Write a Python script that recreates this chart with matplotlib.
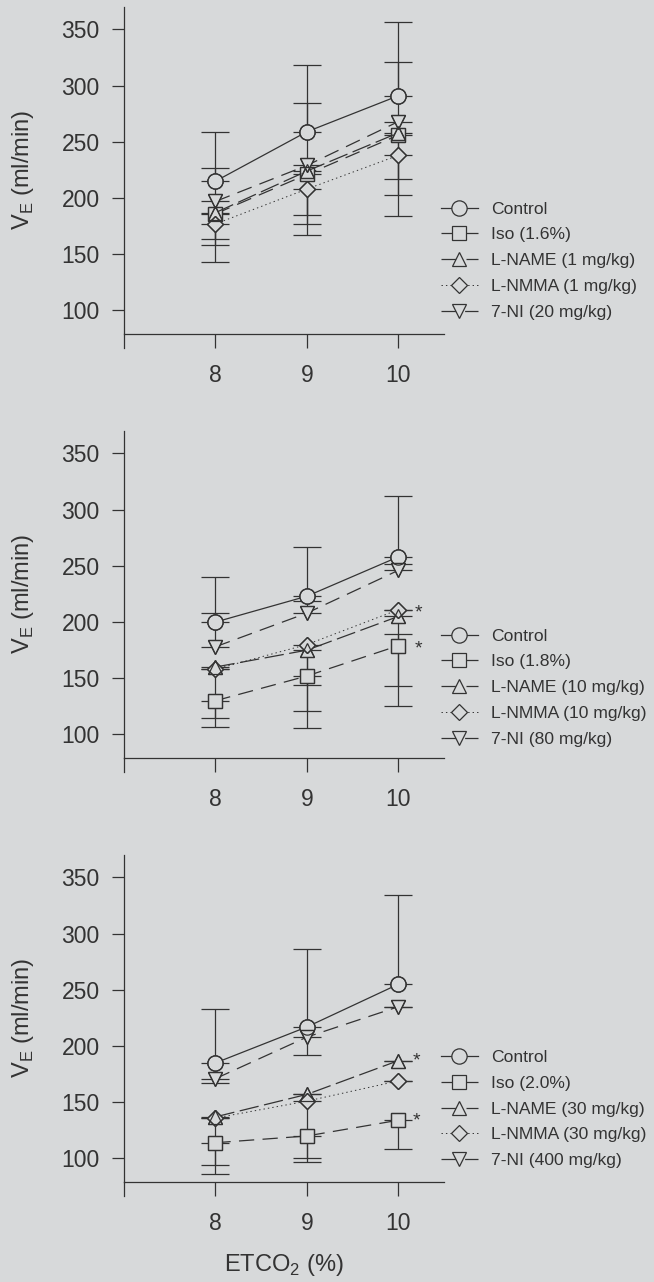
import matplotlib.pyplot as plt
import numpy as np

plt.rcParams['font.family'] = ['Liberation Sans', 'DejaVu Sans']
plt.rcParams['mathtext.fontset'] = 'custom'
plt.rcParams['mathtext.rm'] = 'Liberation Sans'
plt.rcParams['lines.scale_dashes'] = False

bg = '#d7d9da'
fg = '#333333'

etco2 = [8, 9, 10]

# series order: Control, Iso, L-NAME, L-NMMA, 7-NI
labels_1 = ['Control', 'Iso (1.6%)', 'L-NAME (1 mg/kg)', 'L-NMMA (1 mg/kg)', '7-NI (20 mg/kg)']
labels_2 = ['Control', 'Iso (1.8%)', 'L-NAME (10 mg/kg)', 'L-NMMA (10 mg/kg)', '7-NI (80 mg/kg)']
labels_3 = ['Control', 'Iso (2.0%)', 'L-NAME (30 mg/kg)', 'L-NMMA (30 mg/kg)', '7-NI (400 mg/kg)']

mean_1 = [[215, 259, 291], [186, 221, 256], [187, 224, 258], [177, 208, 238], [197, 229, 268]]
up_1 = [[44, 59, 66], [0, 0, 0], [0, 0, 0], [0, 0, 0], [30, 56, 53]]
dn_1 = [[0, 0, 0], [28, 36, 53], [44, 57, 74], [13, 31, 21], [0, 0, 0]]

mean_2 = [[200, 223, 258], [130, 152, 179], [160, 175, 205], [158, 180, 211], [178, 208, 246]]
up_2 = [[40, 44, 54], [0, 0, 10], [0, 0, 0], [0, 0, 0], [30, 11, 6]]
dn_2 = [[0, 0, 0], [15, 31, 36], [53, 69, 80], [0, 36, 0], [0, 0, 0]]

mean_3 = [[185, 217, 255], [114, 120, 134], [137, 157, 187], [136, 151, 169], [171, 208, 235]]
up_3 = [[48, 69, 79], [0, 0, 0], [0, 0, 0], [0, 0, 0], [0, 0, 0]]
dn_3 = [[0, 0, 0], [20, 20, 26], [51, 0, 0], [0, 54, 0], [4, 16, 0]]

# significance stars (x, y) per panel
stars_2 = [(10.22, 208), (10.22, 176)]
stars_3 = [(10.2, 187), (10.2, 133)]

markers = ['o', 's', '^', 'D', 'v']
msizes = [11, 9.5, 10.5, 8.5, 10.5]
styles = ['-', (0, (11, 6)), (0, (14, 4)), (0, (1, 2.2)), (0, (11, 6))]
widths = [0.9, 0.9, 0.9, 0.7, 0.9]

fig = plt.figure(figsize=(6.54, 12.82), dpi=100, facecolor=bg)
H = 1282.0
W = 654.0
tops = [7, 431, 855]
leg_y = [260.5, 687.5, 1109]

panels = [(labels_1, mean_1, up_1, dn_1, []),
          (labels_2, mean_2, up_2, dn_2, stars_2),
          (labels_3, mean_3, up_3, dn_3, stars_3)]

for k, (labels, means, ups, dns, stars) in enumerate(panels):
    ax = fig.add_axes([124 / W, 1 - (tops[k] + 326.5) / H, 320 / W, 326.5 / H])
    ax.set_facecolor(bg)
    for i in range(5):
        ax.errorbar(etco2, means[i], yerr=[dns[i], ups[i]], fmt='none',
                    ecolor=fg, elinewidth=0.9, capsize=10, capthick=0.9, zorder=1)
    for i in range(5):
        ax.plot(etco2, means[i], linestyle=styles[i], lw=widths[i], color=fg,
                marker=markers[i], ms=msizes[i], mfc=bg, mec=fg, mew=0.9,
                label=labels[i], zorder=3)
    for i in range(5):
        ax.plot(etco2, means[i], linestyle='none', marker=markers[i], ms=msizes[i],
                mfc='none', mec=fg, mew=0.9, zorder=4)
    for sx, sy in stars:
        ax.text(sx, sy, '*', fontsize=14, color=fg, ha='center', va='center')

    ax.set_xlim(7.0, 10.5)
    ax.set_ylim(79.5, 370)
    ax.set_xticks(etco2)
    ax.set_yticks([100, 150, 200, 250, 300, 350])
    for s in ['top', 'right']:
        ax.spines[s].set_visible(False)
    for s in ['left', 'bottom']:
        ax.spines[s].set_color(fg)
        ax.spines[s].set_linewidth(0.9)
    ax.plot([0, 0], [0, -14 / 326.5], transform=ax.transAxes, color=fg,
            lw=0.9, clip_on=False)
    ax.tick_params(axis='x', direction='out', length=10, width=0.9, pad=12,
                   labelsize=16.5, colors=fg)
    ax.tick_params(axis='y', direction='out', length=8.6, width=0.9, pad=9,
                   labelsize=16.5, colors=fg)
    ax.set_ylabel(r'V$_\mathregular{E}$ (ml/min)', fontsize=17, color=fg)
    ax.yaxis.set_label_coords(-0.275, 0.5)

    ax.legend(loc='center left', bbox_to_anchor=(441 / W, 1 - leg_y[k] / H),
              bbox_transform=fig.transFigure, frameon=False, fontsize=12.6,
              handlelength=2.1, handletextpad=0.75, labelspacing=0.6,
              borderpad=0, borderaxespad=0, labelcolor=fg)

    if k == 2:
        ax.set_xlabel(r'ETCO$_\mathregular{2}$ (%)', fontsize=17, color=fg)
        ax.xaxis.set_label_coords(0.5, -0.215)

fig.savefig('out.png', dpi=100, facecolor=bg)
